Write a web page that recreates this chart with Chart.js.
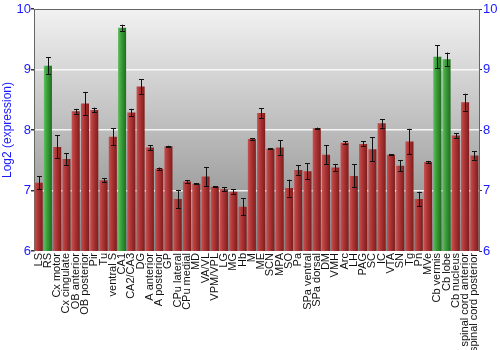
<!DOCTYPE html>
<html>
<head>
<meta charset="utf-8">
<script src="https://cdn.jsdelivr.net/npm/chart.js@4/dist/chart.umd.min.js"></script>
<style>
html,body{margin:0;padding:0;background:#fff;}
#wrap{width:500px;height:350px;position:relative;}
</style>
</head>
<body>
<div id="wrap"><canvas id="c" width="500" height="350"></canvas></div>
<script>
const categories = ["LS","RS","Cx motor","Cx cingulate","OB anterior","OB posterior","Pir","Tu","ventral S","CA1","CA2/CA3","DG","A anterior","A posterior","GP","CPu lateral","CPu medial","MD","VA/VL","VPM/VPL","LG","MG","Hb","M","ME","SCN","MPA","SO","Pa","SPa ventral","SPa dorsal","DM","VMH","Arc","LH","PAG","SC","IC","VTA","SN","Tg","Pn","MVe","Cb vermis","Cb lobe","Cb nucleus","spinal cord anterior","spinal cord posterior"];
const values = [7.13,9.06,7.72,7.52,8.31,8.44,8.33,7.17,7.89,9.69,8.29,8.72,7.71,7.36,7.73,6.86,7.15,7.11,7.23,7.06,7.02,6.98,6.73,7.85,8.28,7.69,7.71,7.04,7.34,7.32,8.03,7.59,7.38,7.79,7.24,7.77,7.68,8.11,7.59,7.41,7.81,6.86,7.47,9.21,9.17,7.91,8.46,7.58];
const errors = [0.11,0.14,0.19,0.10,0.04,0.19,0.04,0.03,0.14,0.05,0.06,0.12,0.04,0.02,0.01,0.15,0.02,0.01,0.16,0.01,0.03,0.04,0.14,0.01,0.08,0.01,0.12,0.14,0.08,0.13,0.01,0.16,0.06,0.02,0.19,0.04,0.20,0.07,0.01,0.09,0.21,0.12,0.02,0.19,0.11,0.04,0.14,0.07];
const highlighted = ["RS","CA1","Cb vermis","Cb lobe"];
const yTicks = [6,7,8,9,10];

const FONT = "'Liberation Sans', Arial, sans-serif";
const BLUE = "#1a1aff";

function barFill(ctx){
  const chart = ctx.chart;
  const green = highlighted.includes(categories[ctx.dataIndex]);
  const pal = green ? ["#62bf62","#3da23d","#1f6d1f"] : ["#c65252","#b23838","#7e1c1c"];
  const xs = chart.scales.x;
  if(!chart.chartArea || !xs || xs.width === undefined) return pal[1];
  const cx = xs.getPixelForValue(ctx.dataIndex);
  const half = (xs.width / categories.length) * 0.87 / 2;
  const g = chart.ctx.createLinearGradient(cx - half, 0, cx + half, 0);
  g.addColorStop(0, pal[0]);
  g.addColorStop(0.35, pal[1]);
  g.addColorStop(1, pal[2]);
  return g;
}

const bgPlugin = {
  id: 'bg',
  beforeDraw(chart){
    const {ctx, chartArea:a} = chart;
    const g = ctx.createLinearGradient(0, a.top, 0, a.bottom);
    g.addColorStop(0, '#f2f2f2');
    g.addColorStop(1, '#858585');
    ctx.save();
    ctx.fillStyle = g;
    ctx.fillRect(a.left, a.top, a.right - a.left, a.bottom - a.top);
    ctx.restore();
  },
  afterDraw(chart){
    const {ctx, chartArea:a} = chart;
    ctx.save();
    ctx.strokeStyle = '#666';
    ctx.lineWidth = 1;
    ctx.beginPath();
    ctx.moveTo(a.left, a.top + 0.5);
    ctx.lineTo(a.right, a.top + 0.5);
    ctx.stroke();
    ctx.restore();
  }
};

const errPlugin = {
  id: 'err',
  afterDatasetsDraw(chart){
    const {ctx} = chart;
    const ys = chart.scales.y;
    const meta = chart.getDatasetMeta(0);
    ctx.save();
    ctx.strokeStyle = '#111';
    ctx.lineWidth = 1;
    meta.data.forEach((bar, i) => {
      const x = Math.round(bar.x) + 0.5;
      const yt = ys.getPixelForValue(values[i] + errors[i]);
      const yb = ys.getPixelForValue(values[i] - errors[i]);
      ctx.beginPath();
      ctx.moveTo(x, yt); ctx.lineTo(x, yb);
      ctx.moveTo(x - 2.5, Math.round(yt) + 0.5); ctx.lineTo(x + 2.5, Math.round(yt) + 0.5);
      ctx.moveTo(x - 2.5, Math.round(yb) + 0.5); ctx.lineTo(x + 2.5, Math.round(yb) + 0.5);
      ctx.stroke();
    });
    ctx.restore();
  }
};

new Chart(document.getElementById('c'), {
  type: 'bar',
  data: {
    labels: categories,
    datasets: [{
      data: values,
      backgroundColor: barFill,
      borderWidth: 0,
      barPercentage: 0.87,
      categoryPercentage: 1.0
    }]
  },
  options: {
    responsive: false,
    animation: false,
    devicePixelRatio: 1,
    layout: { padding: { top: 9, left: 0, right: 0, bottom: 0 } },
    plugins: { legend: { display: false }, tooltip: { enabled: false } },
    scales: {
      x: {
        grid: { display: false, drawTicks: false },
        border: { display: false },
        ticks: {
          autoSkip: false, maxRotation: 90, minRotation: 90,
          padding: 2, color: '#111',
          font: { family: FONT, size: 11 }
        },
        afterFit(s){ s.height = 99; }
      },
      y: {
        position: 'left',
        min: 6, max: 10,
        afterBuildTicks(s){ s.ticks = yTicks.map(v => ({value: v})); },
        grid: {
          color: c => (c.tick && (c.tick.value === 6 || c.tick.value === 10)) ? 'rgba(0,0,0,0)' : 'rgba(255,255,255,0.85)',
          lineWidth: 1.5,
          tickColor: '#333',
          tickLength: 3
        },
        border: { display: true, color: '#666' },
        ticks: { color: BLUE, padding: 0, font: { family: FONT, size: 13 } },
        title: {
          display: true, text: 'Log2 (expression)', color: BLUE,
          padding: { top: 0, bottom: 0 },
          font: { family: FONT, size: 12 }
        },
        afterFit(s){ s.width = 34; }
      },
      y2: {
        position: 'right',
        min: 6, max: 10,
        afterBuildTicks(s){ s.ticks = yTicks.map(v => ({value: v})); },
        grid: { drawOnChartArea: false, tickColor: '#333', tickLength: 3 },
        border: { display: true, color: '#666' },
        ticks: { color: BLUE, padding: 1, font: { family: FONT, size: 13 } },
        afterFit(s){ s.width = 21; }
      }
    }
  },
  plugins: [bgPlugin, errPlugin]
});
</script>
</body>
</html>
